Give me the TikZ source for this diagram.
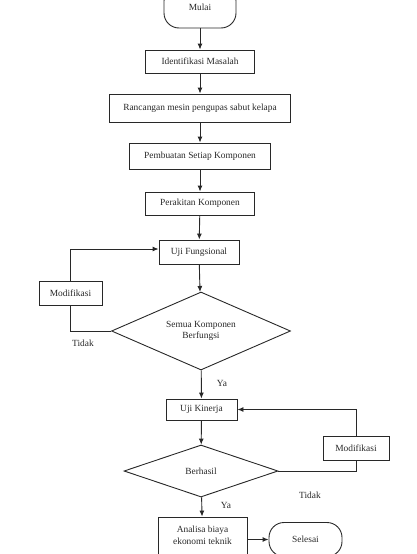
\documentclass[tikz,border=0pt]{standalone}
\usepackage{fontspec}
\setmainfont{Liberation Serif}
\usepackage{tikz}
\usetikzlibrary{shapes, arrows.meta, positioning, calc}

\definecolor{inkgray}{RGB}{40, 40, 40}

\begin{document}
\begin{tikzpicture}[x=1pt, y=-1pt,
    every node/.style={font=\fontsize{9.4}{11}\selectfont, text=inkgray},
    procbox/.style={draw=inkgray, line width=0.9pt, rectangle, inner sep=2pt, align=center},
    termbox/.style={draw=inkgray, line width=0.9pt, rectangle, rounded corners=15pt, align=center},
    decbox/.style={draw=inkgray, line width=0.9pt, diamond, inner sep=0pt, align=center},
    flow/.style={draw=inkgray, line width=0.9pt, -{Latex[length=6pt, width=5pt]}},
    loopline/.style={draw=inkgray, line width=0.9pt}]
  \useasboundingbox (0,0) rectangle (417,554);

  % main column
  \node[termbox, minimum width=72pt, minimum height=42pt] (mulai) at (200,7) {\raisebox{-6pt}{Mulai}};
  \node[procbox, minimum width=109pt, minimum height=23pt] (identifikasi) at (200,61.5) {Identifikasi Masalah};
  \node[procbox, minimum width=181pt, minimum height=28pt] (rancangan) at (200,108) {Rancangan mesin pengupas sabut kelapa};
  \node[procbox, minimum width=141pt, minimum height=26pt] (pembuatan) at (200,156) {Pembuatan Setiap Komponen};
  \node[procbox, minimum width=109pt, minimum height=23pt] (perakitan) at (200,203.5) {Perakitan Komponen};
  \node[procbox, minimum width=80pt, minimum height=24pt] (ujifungsi) at (199,252) {Uji Fungsional};
  \node[decbox, aspect=2.3, minimum width=179pt, minimum height=78pt] (semua) at (201,331) {Semua Komponen\\Berfungsi};
  \node[procbox, minimum width=71pt, minimum height=21pt] (ujikinerja) at (201.5,409.5) {Uji Kinerja};
  \node[decbox, aspect=2.9, minimum width=154pt, minimum height=52pt] (berhasil) at (201,471) {Berhasil};
  \node[procbox, minimum width=89pt, minimum height=40pt] (analisa) at (202.5,537) {\raisebox{4pt}{\shortstack{Analisa biaya\\ekonomi teknik}}};
  \node[termbox, minimum width=73pt, minimum height=34pt] (selesai) at (305.5,539.5) {Selesai};

  % side boxes
  \node[procbox, minimum width=63pt, minimum height=24pt] (modkiri) at (70.5,293) {Modifikasi};
  \node[procbox, minimum width=66pt, minimum height=24pt] (modkanan) at (356,448) {Modifikasi};

  % labels
  \node (tidakkiri) at (83,343) {Tidak};
  \node (yaatas) at (222,383) {Ya};
  \node (tidakkanan) at (310,495) {Tidak};
  \node (yabawah) at (226,505) {Ya};

  % connectors
  \draw[flow] (mulai) -- (identifikasi);
  \draw[flow] (identifikasi) -- (rancangan);
  \draw[flow] (rancangan) -- (pembuatan);
  \draw[flow] (pembuatan) -- (perakitan);
  \draw[flow] (perakitan) -- (ujifungsi);
  \draw[flow] (ujifungsi) -- (semua);
  \draw[flow] (semua) -- (ujikinerja);
  \draw[flow] (ujikinerja) -- (berhasil);
  \draw[flow] (berhasil) -- (analisa);
  \draw[flow] (analisa.east |- selesai.west) -- (selesai.west);

  % loops back
  \draw[loopline] (semua.west) -| (modkiri.south);
  \draw[flow] (modkiri.north) |- ($(ujifungsi.west)+(0,-3)$);
  \draw[loopline] (berhasil.east) -| (modkanan.south);
  \draw[flow] (modkanan.north) |- (ujikinerja.east);
\end{tikzpicture}
\end{document}
